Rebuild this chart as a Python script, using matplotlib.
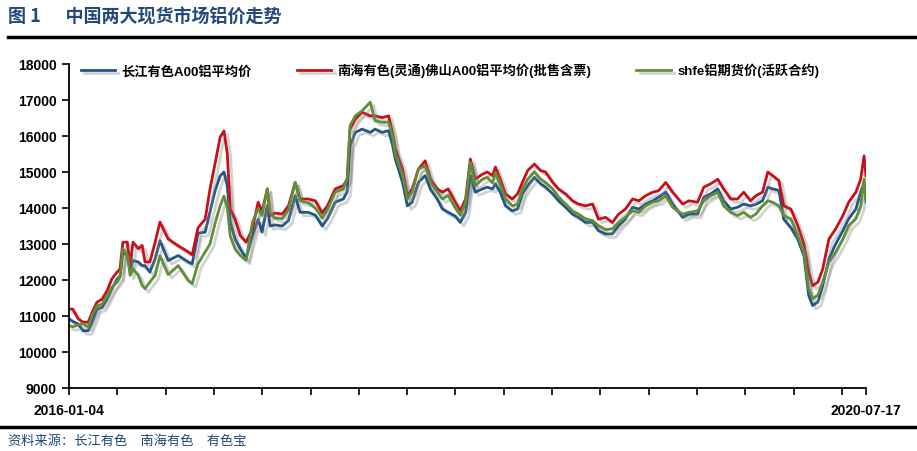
import matplotlib
matplotlib.use("Agg")
import matplotlib.pyplot as plt
import matplotlib.patheffects as pe
import numpy as np

plt.rcParams['font.family'] = ['Liberation Sans', 'Noto Sans CJK SC', 'DejaVu Sans']

# ---- data ----
start_label = "2016-01-04"
end_label = "2020-07-17"
total_days = 1656  # days from 2016-01-04 to 2020-07-17

# days since 2016-01-04
days = [0, 8, 19, 29, 40, 48, 58, 69, 79, 89, 100, 106, 112, 121, 127, 133, 144, 152, 158, 168,
        179, 189, 206, 227, 248, 256, 268, 283, 293, 304, 314, 322, 329, 335, 345, 356, 368, 381, 393, 401,
        412, 418, 428, 443, 456, 470, 480, 497, 512, 526, 537, 553, 570, 578, 584, 595, 609, 626, 636, 651,
        664, 672, 678, 693, 703, 713, 726, 740, 751, 765, 776, 788, 803, 813, 824, 834, 844, 859, 869, 880,
        886, 896, 907, 921, 932, 942, 953, 967, 980, 990, 1005, 1017, 1032, 1046, 1059, 1073, 1088, 1100, 1115, 1129,
        1142, 1156, 1171, 1184, 1198, 1213, 1225, 1240, 1254, 1275, 1288, 1306, 1319, 1333, 1348, 1360, 1375, 1389, 1402, 1416,
        1427, 1441, 1452, 1462, 1475, 1485, 1500, 1514, 1527, 1537, 1545, 1556, 1566, 1579, 1593, 1608, 1620, 1635, 1645, 1652,
        1656]

changjiang = [10920, 10850, 10780, 10590, 10590, 10830, 11190, 11240, 11470, 11750, 12030, 12100, 12770, 12680, 12310, 12540, 12500, 12400, 12400, 12220,
              12590, 13090, 12540, 12680, 12500, 12450, 13300, 13330, 13900, 14500, 14890, 15000, 14600, 13610, 13140, 12860, 12600, 13230, 13690, 13330,
              14060, 13500, 13530, 13500, 13650, 14340, 13880, 13880, 13800, 13500, 13700, 14160, 14250, 14450, 15730, 16100, 16190, 16100, 16190, 16100,
              16150, 15760, 15360, 14710, 14060, 14160, 14710, 14900, 14520, 14250, 13970, 13880, 13770, 13600, 13880, 14900, 14440, 14530, 14580, 14530,
              14670, 14440, 14060, 13920, 13970, 14390, 14620, 14850, 14670, 14580, 14390, 14200, 14020, 13830, 13740, 13600, 13600, 13370, 13280, 13280,
              13510, 13690, 14020, 13970, 14110, 14200, 14300, 14440, 14110, 13740, 13830, 13830, 14300, 14390, 14530, 14200, 13970, 14020, 14110, 14060,
              14100, 14200, 14580, 14530, 14490, 13690, 13450, 13140, 12680, 11570, 11290, 11390, 11840, 12590, 13000, 13370, 13700, 13970, 14440, 14710,
              14250]

nanhai = [11190, 11190, 10920, 10830, 10830, 11100, 11380, 11470, 11700, 12030, 12220, 12310, 13050, 13050, 12400, 13050, 12870, 12960, 12500, 12500,
          13050, 13610, 13140, 12950, 12780, 12700, 13450, 13690, 14530, 15270, 15970, 16140, 15500, 13970, 13690, 13230, 13050, 13420, 14160, 13890,
          14530, 13790, 13860, 13830, 14060, 14710, 14250, 14250, 14200, 13860, 14060, 14530, 14620, 14800, 16190, 16470, 16660, 16560, 16560, 16510,
          16560, 16100, 15640, 15080, 14340, 14530, 15080, 15310, 14800, 14530, 14440, 14530, 14150, 13920, 14250, 15360, 14800, 14940, 15000, 14900,
          15140, 14800, 14390, 14250, 14390, 14710, 15040, 15220, 15040, 15000, 14710, 14530, 14390, 14200, 14110, 14060, 14110, 13690, 13740, 13600,
          13830, 13970, 14250, 14200, 14340, 14440, 14480, 14710, 14440, 14110, 14200, 14160, 14580, 14670, 14800, 14530, 14250, 14250, 14440, 14200,
          14340, 14440, 15000, 14900, 14760, 14060, 13970, 13510, 13000, 12210, 11840, 11940, 12300, 13140, 13420, 13790, 14160, 14440, 14800, 15450,
          14900]

shfe = [10730, 10700, 10750, 10780, 10700, 11020, 11280, 11330, 11560, 11800, 11940, 12080, 12870, 12680, 12130, 12310, 12130, 11850, 11760, 11940,
        12130, 12675, 12150, 12400, 11980, 11900, 12450, 12780, 13000, 13600, 14060, 14330, 14000, 13220, 12860, 12680, 12550, 13600, 13980, 13790,
        14530, 13860, 13720, 13700, 13950, 14710, 14200, 14150, 14000, 13720, 13950, 14440, 14530, 14800, 16290, 16560, 16700, 16940, 16420, 16380,
        16380, 16000, 15500, 14900, 14250, 14440, 15080, 15170, 14710, 14440, 14250, 14350, 13990, 13800, 14150, 15270, 14620, 14800, 14850, 14700,
        14990, 14620, 14250, 14060, 14100, 14530, 14800, 15000, 14800, 14710, 14530, 14300, 14110, 13920, 13830, 13700, 13650, 13510, 13400, 13420,
        13600, 13740, 13920, 13880, 14060, 14160, 14200, 14340, 14020, 13830, 13880, 13920, 14200, 14340, 14440, 14060, 13880, 13790, 13880, 13740,
        13830, 14060, 14200, 14160, 14060, 13790, 13700, 13230, 12770, 11760, 11480, 11580, 11940, 12490, 12770, 13140, 13510, 13700, 14060, 14800,
        14160]

series_names = ["长江有色A00铝平均价", "南海有色(灵通)佛山A00铝平均价(批售含票)", "shfe铝期货价(活跃合约)"]
series_values = [changjiang, nanhai, shfe]
series_colors = ["#235585", "#C8101A", "#5E9038"]

title_text = "图 1      中国两大现货市场铝价走势"
source_text = "资料来源：长江有色　南海有色　有色宝"

# ---- figure ----
fig = plt.figure(figsize=(9.17, 4.52), dpi=100)
ax = fig.add_axes([69/917, 1-389/452, (866-69)/917, (389-65)/452])

shadow = [pe.SimpleLineShadow(offset=(2.5, -2.5), shadow_color='#808080', alpha=0.35), pe.Normal()]
for name, vals, col in zip(series_names, series_values, series_colors):
    ax.plot(days, vals, color=col, lw=2.0, label=name, path_effects=shadow, solid_joinstyle='round')

ax.set_ylim(9000, 18000)
ax.set_yticks(np.arange(9000, 18001, 1000))
ax.set_xlim(0, total_days)
xt = list(np.arange(0, total_days, total_days / 16.5)) + [total_days]
ax.set_xticks(xt)
ax.set_xticklabels([start_label] + [""] * (len(xt) - 2) + [end_label])

for s in ['top', 'right']:
    ax.spines[s].set_visible(False)
for s in ['left', 'bottom']:
    ax.spines[s].set_linewidth(1.3)
    ax.spines[s].set_color('black')
ax.tick_params(axis='both', direction='out', length=5, width=1.2, colors='black',
               labelsize=10)
ax.tick_params(axis='y', pad=4)
ax.tick_params(axis='x', pad=6)
for lab in ax.get_yticklabels() + ax.get_xticklabels():
    lab.set_fontweight('bold')

leg = ax.legend(loc='upper left', bbox_to_anchor=(0.008, 1.02), ncol=3, frameon=False,
                prop={'family': ['Liberation Sans', 'Noto Sans CJK SC'], 'weight': 'bold', 'size': 9.5},
                handlelength=2.6, handletextpad=0.5, columnspacing=3.4, borderaxespad=0)

# title and rules
fig.text(8/917, 1-17/452, title_text, color='#23487A', fontsize=13, fontweight='bold',
         family=['Noto Sans CJK SC', 'DejaVu Sans'], va='center', ha='left')
fig.add_artist(plt.Line2D([8/917, 1.0], [1-38/452, 1-38/452], color='black', lw=2.5))
fig.add_artist(plt.Line2D([0, 1.0], [1-428/452, 1-428/452], color='black', lw=2.5))
fig.text(8/917, 1-441/452, source_text, color='#23487A', fontsize=9.5, style='italic',
         family=['Noto Sans CJK SC', 'DejaVu Sans'], va='center', ha='left')

fig.savefig("out.png", dpi=100)
